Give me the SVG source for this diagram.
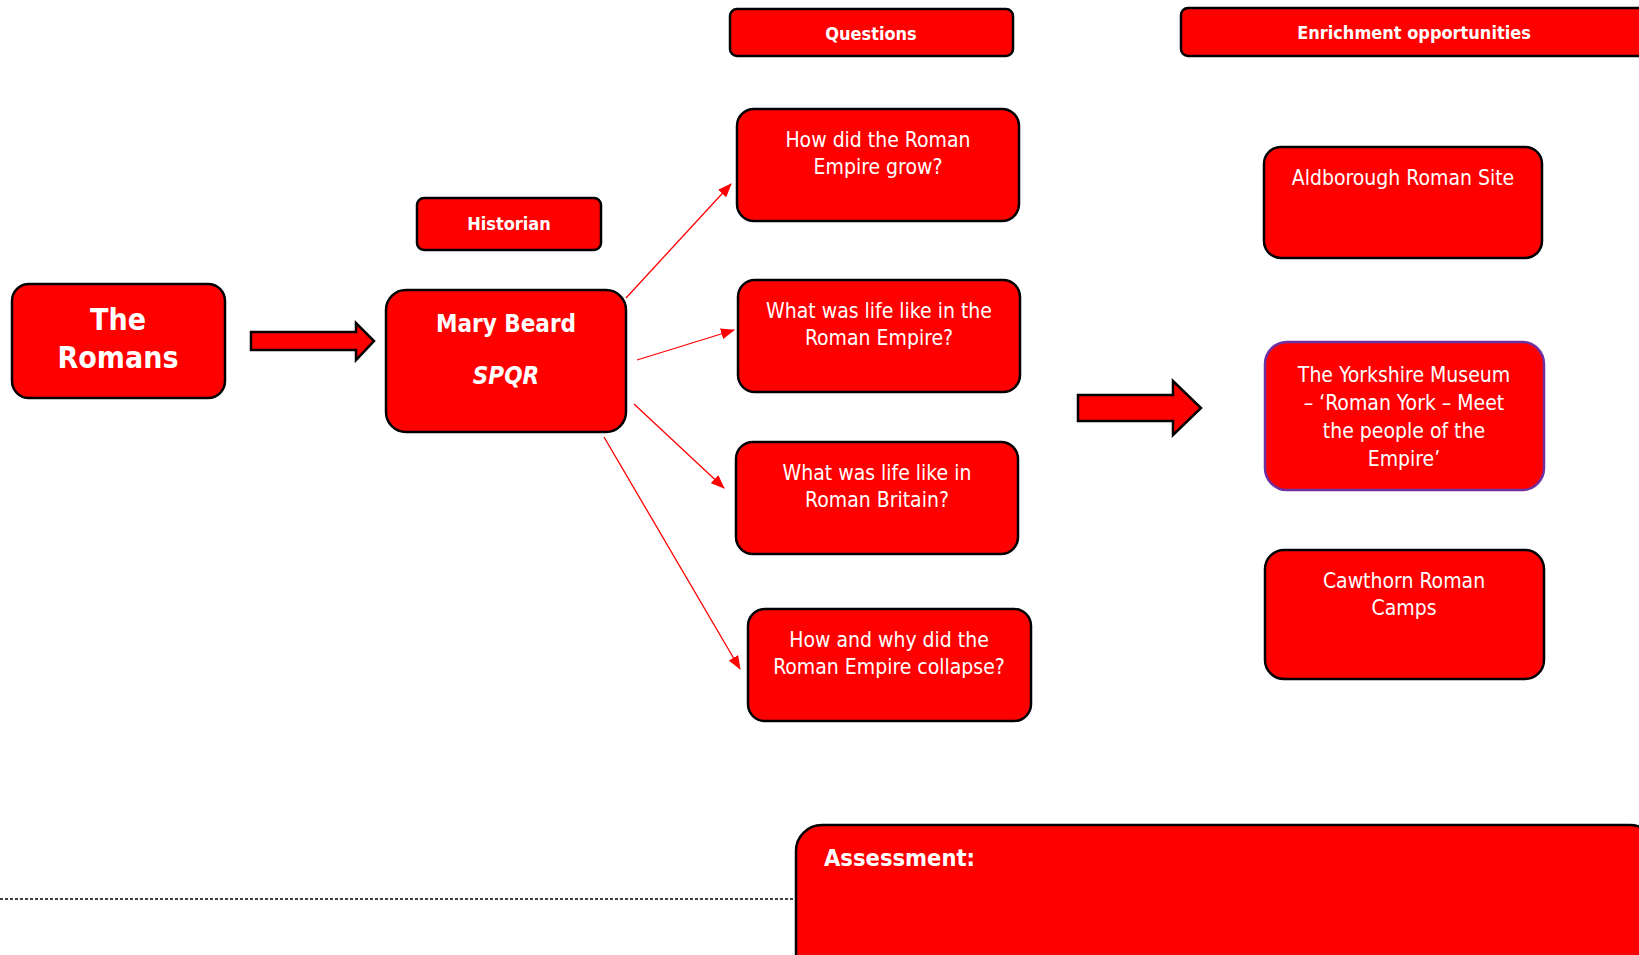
<svg xmlns="http://www.w3.org/2000/svg" width="1639" height="955" viewBox="0 0 1639 955">
<defs>
<style>
.box{fill:#FF0000;stroke:#000;stroke-width:2.5}
.t{fill:#fff;font-family:"DejaVu Sans Condensed","DejaVu Sans",sans-serif;font-size:21px;text-anchor:middle}
.b{font-weight:bold}
.con{stroke:#FF0000;stroke-width:1.3;fill:none;marker-end:url(#ah)}
.blk{fill:#FF0000;stroke:#000;stroke-width:2.5;stroke-linejoin:miter}
</style>
<marker id="ah" viewBox="0 0 14 11" refX="13" refY="5.5" markerWidth="14" markerHeight="11" markerUnits="userSpaceOnUse" orient="auto">
<path d="M0,0 L14,5.5 L0,11 Z" fill="#FF0000"/>
</marker>
</defs>
<rect width="1639" height="955" fill="#fff"/>

<g id="connectors">
<line class="con" x1="626" y1="298" x2="731" y2="184"/>
<line class="con" x1="637" y1="360" x2="734" y2="330"/>
<line class="con" x1="634" y1="404" x2="724" y2="488"/>
<line class="con" x1="604" y1="437" x2="740" y2="669"/>
<path class="blk" d="M251,332 L356,332 L356,323 L374,341 L356,360 L356,350 L251,350 Z"/>
<path class="blk" d="M1078,395 L1173,395 L1173,381 L1201,408 L1173,435 L1173,421 L1078,421 Z"/>
<line x1="0" y1="899" x2="796" y2="899" stroke="#000" stroke-width="1.5" stroke-dasharray="3,2"/>
</g>

<g id="questions-header">
<rect class="box" x="730" y="9" width="283" height="47" rx="7"/>
<text class="t b" x="871" y="40" style="font-size:18px">Questions</text>
</g>

<g id="enrichment-header">
<rect class="box" x="1181" y="8" width="470" height="48" rx="7"/>
<text class="t b" x="1414" y="39" style="font-size:18px">Enrichment opportunities</text>
</g>

<g id="historian">
<rect class="box" x="417" y="198" width="184" height="52" rx="7"/>
<text class="t b" x="509" y="230" style="font-size:18px">Historian</text>
</g>

<g id="the-romans">
<rect class="box" x="12" y="284" width="213" height="114" rx="17"/>
<text class="t b" x="118" y="330" style="font-size:30px">The</text>
<text class="t b" x="118" y="368" style="font-size:30px">Romans</text>
</g>

<g id="mary-beard">
<rect class="box" x="386" y="290" width="240" height="142" rx="20"/>
<text class="t b" x="506" y="332" style="font-size:24px">Mary Beard</text>
<text class="t b" x="506" y="384" style="font-size:24px;font-style:italic">SPQR</text>
</g>

<g id="q1">
<rect class="box" x="737" y="109" width="282" height="112" rx="17"/>
<text class="t" x="878" y="147">How did the Roman</text>
<text class="t" x="878" y="174">Empire grow?</text>
</g>

<g id="q2">
<rect class="box" x="738" y="280" width="282" height="112" rx="17"/>
<text class="t" x="879" y="318">What was life like in the</text>
<text class="t" x="879" y="345">Roman Empire?</text>
</g>

<g id="q3">
<rect class="box" x="736" y="442" width="282" height="112" rx="17"/>
<text class="t" x="877" y="480">What was life like in</text>
<text class="t" x="877" y="507">Roman Britain?</text>
</g>

<g id="q4">
<rect class="box" x="748" y="609" width="283" height="112" rx="17"/>
<text class="t" x="889" y="647">How and why did the</text>
<text class="t" x="889" y="674">Roman Empire collapse?</text>
</g>

<g id="aldborough">
<rect class="box" x="1264" y="147" width="278" height="111" rx="17"/>
<text class="t" x="1403" y="185">Aldborough Roman Site</text>
</g>

<g id="yorkshire">
<rect class="box" x="1265" y="342" width="279" height="148" rx="22" style="stroke:#7030A0"/>
<text class="t" x="1404" y="382">The Yorkshire Museum</text>
<text class="t" x="1404" y="410">– ‘Roman York – Meet</text>
<text class="t" x="1404" y="438">the people of the</text>
<text class="t" x="1404" y="466">Empire’</text>
</g>

<g id="cawthorn">
<rect class="box" x="1265" y="550" width="279" height="129" rx="19"/>
<text class="t" x="1404" y="588">Cawthorn Roman</text>
<text class="t" x="1404" y="615">Camps</text>
</g>

<g id="assessment">
<rect class="box" x="796" y="825" width="860" height="160" rx="26"/>
<text class="t b" x="824" y="866" style="font-size:23.5px;text-anchor:start">Assessment:</text>
</g>
</svg>
